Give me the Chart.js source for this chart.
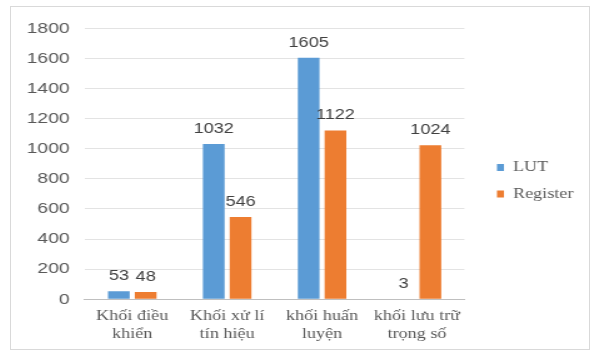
<!DOCTYPE html>
<html>
<head>
<meta charset="utf-8">
<script src="https://cdn.jsdelivr.net/npm/chart.js@4/dist/chart.umd.min.js"></script>
<style>
html,body{margin:0;padding:0;background:#fff;}
#wrap{position:absolute;left:10px;top:6px;width:578px;height:342px;border:1px solid #d9d9d9;overflow:hidden;}
#inner{position:absolute;left:0;top:0;width:462px;height:342px;transform:scaleX(1.2511);transform-origin:0 0;}
canvas{display:block;}
</style>
</head>
<body>
<div id="wrap"><div id="inner"><canvas id="c"></canvas></div></div>
<script>
const categories = [["Khối điều","khiển"],["Khối xử lí","tín hiệu"],["khối huấn","luyện"],["khối lưu trữ","trọng số"]];
const lutValues = [53, 1032, 1605, 3];
const registerValues = [48, 546, 1122, 1024];
const yTicks = [0,200,400,600,800,1000,1200,1400,1600,1800];

const valueLabels = {
  id: 'valueLabels',
  afterDatasetsDraw(chart) {
    const ctx = chart.ctx;
    ctx.save();
    ctx.font = '14.5px "Liberation Sans"';
    ctx.fillStyle = '#404040';
    ctx.textAlign = 'center';
    ctx.textBaseline = 'alphabetic';
    chart.data.datasets.forEach((ds, i) => {
      chart.getDatasetMeta(i).data.forEach((bar, j) => {
        ctx.fillText(String(ds.data[j]), bar.x, bar.y - 11);
      });
    });
    ctx.restore();
  }
};

new Chart(document.getElementById('c'), {
  type: 'bar',
  data: {
    labels: categories,
    datasets: [
      {label: 'LUT', data: lutValues, backgroundColor: '#5b9bd5', categoryPercentage: 0.565, barPercentage: 0.81},
      {label: 'Register', data: registerValues, backgroundColor: '#ed7d31', categoryPercentage: 0.565, barPercentage: 0.81}
    ]
  },
  options: {
    responsive: true,
    maintainAspectRatio: false,
    animation: false,
    layout: {padding: {top: 3.5, right: 10.4, left: 0.5, bottom: -2}},
    plugins: {
      legend: {
        position: 'right',
        labels: {
          boxWidth: 5.6, boxHeight: 7, padding: 12,
          color: '#595959',
          font: {family: '"Liberation Serif"', size: 14.5}
        }
      },
      tooltip: {enabled: false}
    },
    scales: {
      x: {
        grid: {display: false, drawTicks: false},
        border: {color: '#bfbfbf'},
        ticks: {color: '#595959', font: {family: '"Liberation Serif"', size: 14.5, lineHeight: 1.3}, maxRotation: 0, padding: 7}
      },
      y: {
        min: 0, max: 1800,
        afterBuildTicks: (s) => { s.ticks = yTicks.map(v => ({value: v})); },
        grid: {color: '#e3e3e3', drawTicks: false},
        border: {display: false},
        ticks: {color: '#595959', font: {family: '"Liberation Sans"', size: 15.5}, padding: 12,
                callback: (v) => String(v)}
      },
      gap: {
        position: 'right',
        display: true,
        grid: {display: false},
        border: {display: false},
        ticks: {display: false},
        afterFit: (s) => { s.width = 14; }
      }
    }
  },
  plugins: [valueLabels]
});
</script>
</body>
</html>
